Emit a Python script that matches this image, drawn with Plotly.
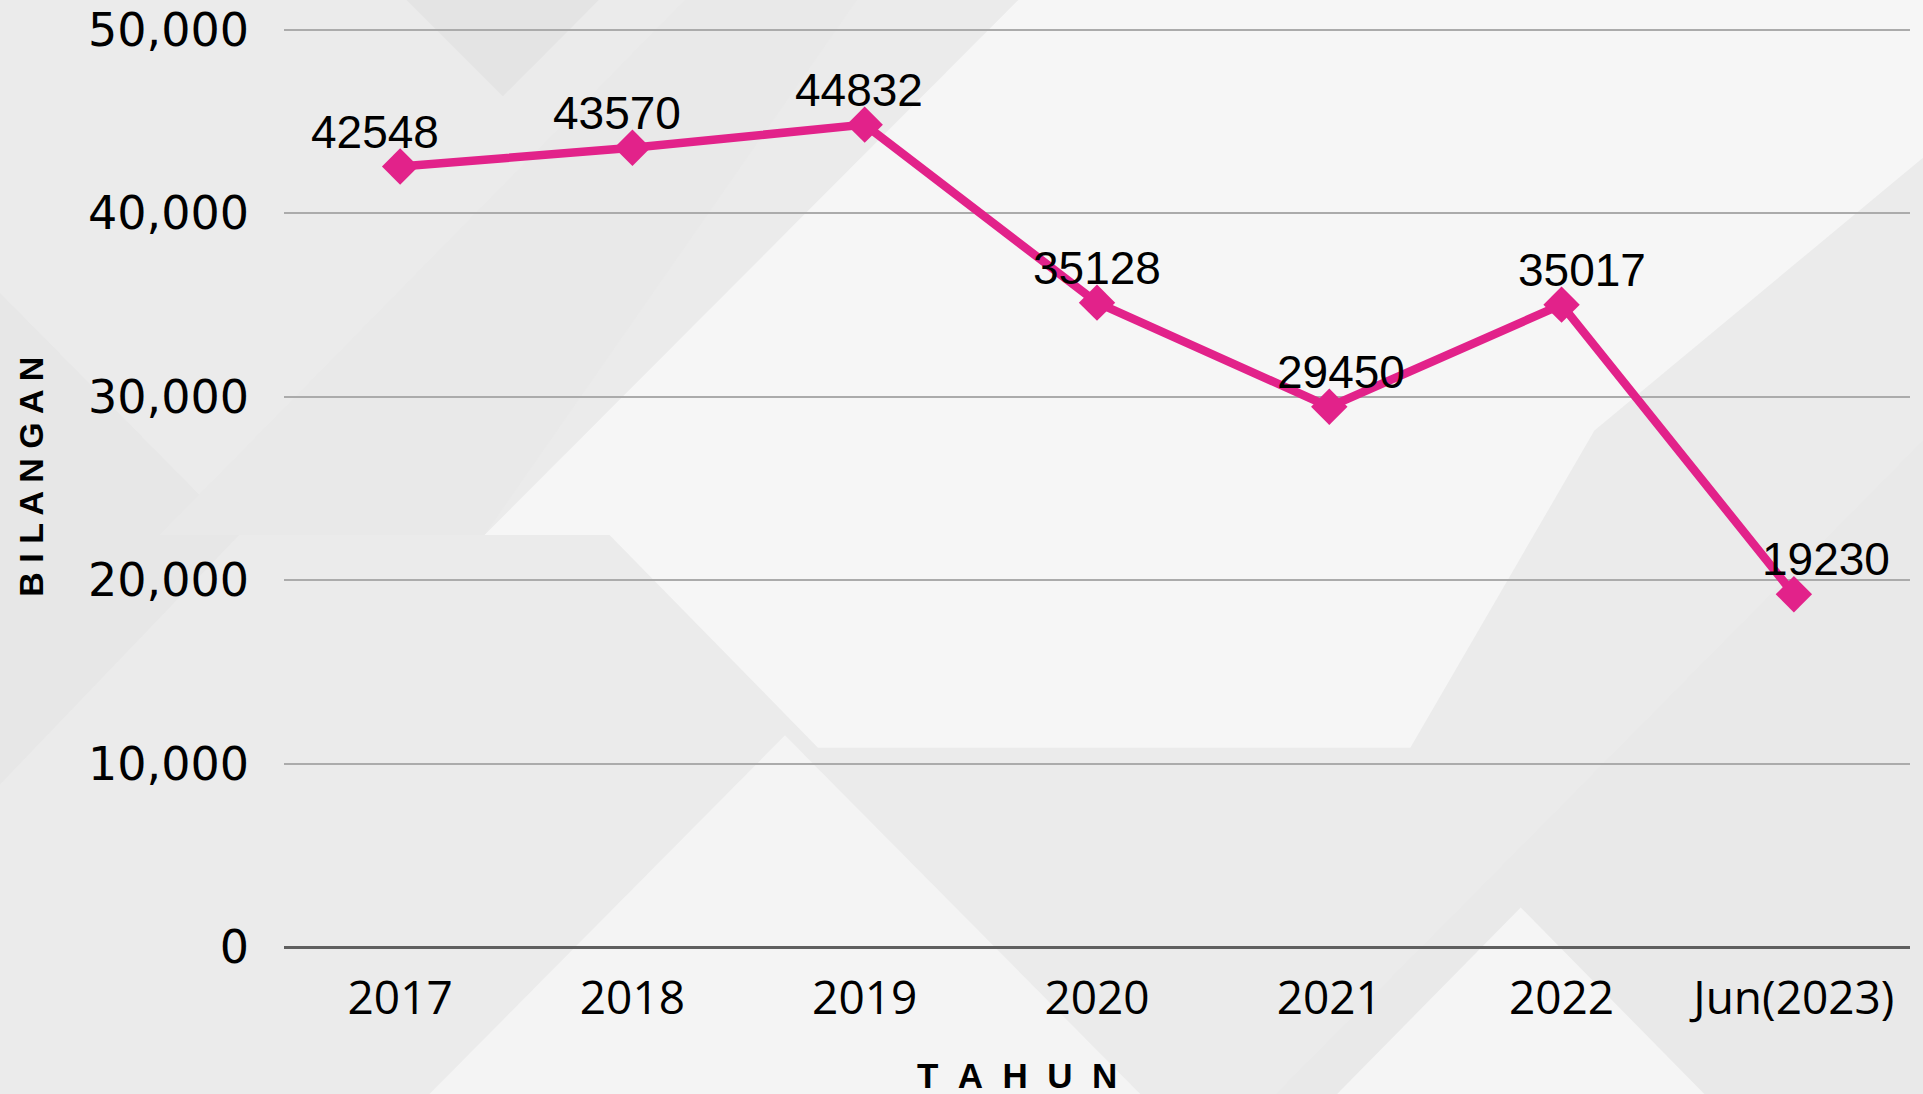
import plotly.graph_objects as go

# ---- data ----
categories = ["2017", "2018", "2019", "2020", "2021", "2022", "Jun(2023)"]
values = [42548, 43570, 44832, 35128, 29450, 35017, 19230]
y_ticks = [0, 10000, 20000, 30000, 40000, 50000]

# ---- styles ----
LINE_COLOR = "#E2228A"
label_dx = [-25, -15, -6, 0, 12, 20, 32]  # horizontal nudges of the value labels (px)
COND = "Noto Sans ExtraCondensed, Noto Sans Condensed, Liberation Sans Narrow, Arial Narrow, Liberation Sans, sans-serif"

W, H = 1923, 1094
ML, MR, MT, MB = 284, 13, 30, 147
PW, PH = W - ML - MR, H - MT - MB
SC = W / 1568.0
YMAX = 50100


def px2paper(x, y):
    X, Y = x * SC, y * SC
    return (X - ML) / PW, (H - MB - Y) / PH


bg_polys = [
    ([(395, 437), (832, 0), (1568, 0), (1568, 130), (1300, 352), (1150, 610), (667, 610), (497, 437)], "#f6f6f6"),
    ([(350, 892), (640, 600), (930, 892)], "#f4f4f4"),
    ([(330, 0), (410, 80), (490, 0)], "#e4e4e4"),
    ([(1040, 892), (1568, 360), (1568, 892)], "#e9e9e9"),
    ([(1090, 892), (1240, 740), (1390, 892)], "#f5f5f5"),
    ([(0, 240), (195, 437), (0, 640)], "#e7e7e7"),
    ([(130, 437), (560, 0), (700, 0), (395, 437)], "#e9e9e9"),
]

shapes = []
for pts, col in bg_polys:
    path = "M " + " L ".join(f"{px2paper(x, y)[0]:.4f},{px2paper(x, y)[1]:.4f}" for x, y in pts) + " Z"
    shapes.append(dict(type="path", xref="paper", yref="paper", path=path,
                       fillcolor=col, line=dict(width=0), layer="below"))

fig = go.Figure()
fig.add_trace(go.Scatter(
    x=list(range(len(categories))), y=values, mode="lines+markers",
    line=dict(color=LINE_COLOR, width=8.5),
    marker=dict(symbol="diamond", size=28, color=LINE_COLOR),
    hoverinfo="skip", showlegend=False,
))

annotations = []
for i, v in enumerate(values):
    annotations.append(dict(
        x=i, y=v, xref="x", yref="y", text=str(v), showarrow=False,
        yanchor="bottom", xanchor="center", xshift=label_dx[i], yshift=7,
        font=dict(family=COND, size=46, color="#000000"),
    ))

annotations.append(dict(
    x=px2paper(25, 0)[0], y=(H - MB - 478) / PH, xref="paper", yref="paper",
    text="B I L A N G A N", textangle=-90, showarrow=False,
    xanchor="center", yanchor="middle",
    font=dict(family=COND, size=34, color="#000000", weight="bold"),
))
annotations.append(dict(
    x=(1017 - ML) / PW, y=(H - MB - 1075) / PH, xref="paper", yref="paper",
    text="T\u00a0\u00a0A\u00a0\u00a0H\u00a0\u00a0U\u00a0\u00a0N", showarrow=False,
    xanchor="center", yanchor="middle",
    font=dict(family=COND, size=35, color="#000000", weight="bold"),
))

fig.update_layout(
    width=W, height=H,
    margin=dict(l=ML, r=MR, t=MT - 2, b=MB, pad=0, autoexpand=False),
    paper_bgcolor="#ebebeb",
    plot_bgcolor="rgba(0,0,0,0)",
    shapes=shapes,
    annotations=annotations,
    xaxis=dict(
        tickmode="array", tickvals=list(range(len(categories))), ticktext=categories,
        range=[-0.5, len(categories) - 0.5], showgrid=False, zeroline=False, showline=False,
        ticks="", tickfont=dict(family="Open Sans, sans-serif", size=46, color="#000000"),
        ticklabelstandoff=20, fixedrange=True, automargin=False,
    ),
    yaxis=dict(
        range=[0, YMAX], tickvals=y_ticks, tickformat=",d",
        showgrid=True, gridcolor="#ababab", gridwidth=2,
        zeroline=True, zerolinecolor="#5f5f5f", zerolinewidth=3,
        showline=False, ticks="",
        tickfont=dict(family="DejaVu Sans, sans-serif", size=46, color="#000000"),
        ticklabelstandoff=34, fixedrange=True, automargin=False,
    ),
)

fig.write_html("out.html")
